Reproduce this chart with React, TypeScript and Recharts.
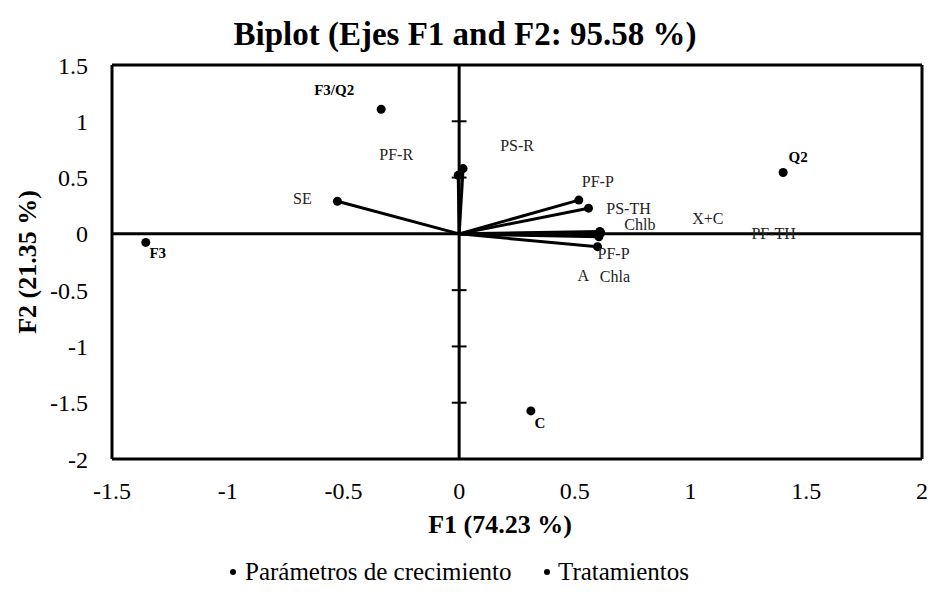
import { ScatterChart, Scatter, XAxis, YAxis, ReferenceLine } from 'recharts'

// growth parameters (vector tips on F1/F2)
const paramNames = ['SE', 'PF-R', 'PS-R', 'PF-P', 'PS-TH', 'Chlb', 'X+C', 'PF-TH', 'PF-P', 'A', 'Chla']
const paramF1 = [-0.526, -0.004, 0.017, 0.517, 0.559, 0.608, 0.612, 0.607, 0.598, 0.601, 0.604]
const paramF2 = [0.29, 0.52, 0.58, 0.3, 0.228, 0.022, 0.01, -0.002, -0.114, -0.014, -0.026]

// treatments (observations)
const treatNames = ['F3/Q2', 'F3', 'Q2', 'C']
const treatF1 = [-0.337, -1.354, 1.4, 0.31]
const treatF2 = [1.107, -0.076, 0.545, -1.573]

const xTicks = [-1.5, -1, -0.5, 0, 0.5, 1, 1.5, 2]
const yTicks = [-2, -1.5, -1, -0.5, 0, 0.5, 1, 1.5]
const centerMarks = [1, 0.5, -0.5, -1, -1.5]

const legendItems = ['Parámetros de crecimiento', 'Tratamientos']

// label nudges in px, the cluster around F1 = 0.6 would be unreadable otherwise
const paramNudge = [
  [-35, -3], [-62, -21], [54, -23], [19, -19], [40, 0], [40, -7],
  [107, -14], [174, -1], [16, 7], [-15, 40], [16, 40],
]
const treatNudge = [[-47, -19], [12, 11], [15, -16], [9, 12]]

const serif = "'Liberation Serif', 'Times New Roman', serif"

const paramData = paramNames.map((name, i) => ({ x: paramF1[i], y: paramF2[i], name, i }))
const treatData = treatNames.map((name, i) => ({ x: treatF1[i], y: treatF2[i], name, i }))

const ParamDot = (props: any) => {
  const { cx, cy, payload } = props
  const [dx, dy] = paramNudge[payload.i]
  return (
    <g>
      <circle cx={cx} cy={cy} r={4.5} fill="#000" />
      <text x={cx + dx} y={cy + dy} textAnchor="middle" dominantBaseline="central"
        fontFamily={serif} fontSize={16} fill="#222">{payload.name}</text>
    </g>
  )
}

const TreatDot = (props: any) => {
  const { cx, cy, payload } = props
  const [dx, dy] = treatNudge[payload.i]
  return (
    <g>
      <circle cx={cx} cy={cy} r={4.5} fill="#000" />
      <text x={cx + dx} y={cy + dy} textAnchor="middle" dominantBaseline="central"
        fontFamily={serif} fontSize={15} fontWeight="bold" fill="#000">{payload.name}</text>
    </g>
  )
}

export default function App() {
  return (
    <div style={{ position: 'absolute', left: 0, top: 0, width: 930, height: 596, background: '#fff', fontFamily: serif }}>
      <div style={{ position: 'absolute', left: 0, width: 930, top: 14, textAlign: 'center', fontSize: 33, fontWeight: 'bold', lineHeight: '40px' }}>
        Biplot (Ejes F1 and F2: 95.58 %)
      </div>
      <ScatterChart width={930} height={596} margin={{ top: 65, right: 8, bottom: 107, left: 52 }}>
        <XAxis type="number" dataKey="x" domain={[-1.5, 2]} ticks={xTicks} height={30}
          axisLine={false} tickLine={false} tickSize={0} tickMargin={23}
          tick={{ fontFamily: serif, fontSize: 24, fill: '#000' }} allowDataOverflow />
        <YAxis type="number" dataKey="y" domain={[-2, 1.5]} ticks={yTicks} width={60}
          axisLine={false} tickLine={false} tickSize={0} tickMargin={24}
          tick={{ fontFamily: serif, fontSize: 24, fill: '#000' }} allowDataOverflow />

        {/* frame */}
        <ReferenceLine x={-1.5} stroke="#000" strokeWidth={3} />
        <ReferenceLine x={2} stroke="#000" strokeWidth={3} />
        <ReferenceLine y={1.5} stroke="#000" strokeWidth={3} />
        <ReferenceLine y={-2} stroke="#000" strokeWidth={3} />

        {/* centre axes with small marks on F2 */}
        <ReferenceLine x={0} stroke="#000" strokeWidth={3} />
        <ReferenceLine y={0} stroke="#000" strokeWidth={3} />
        {centerMarks.map((v) => (
          <ReferenceLine key={v} segment={[{ x: -0.032, y: v }, { x: 0.032, y: v }]} stroke="#000" strokeWidth={2} />
        ))}

        {/* vectors from the origin */}
        {paramData.map((p) => (
          <ReferenceLine key={p.i} segment={[{ x: 0, y: 0 }, { x: p.x, y: p.y }]} stroke="#000" strokeWidth={3} />
        ))}

        <Scatter name={legendItems[0]} data={paramData} shape={ParamDot} isAnimationActive={false} />
        <Scatter name={legendItems[1]} data={treatData} shape={TreatDot} isAnimationActive={false} />
      </ScatterChart>

      <div style={{ position: 'absolute', left: 0, width: 930, top: 510, textAlign: 'center', paddingLeft: 70, boxSizing: 'border-box', fontSize: 26, fontWeight: 'bold' }}>
        F1 (74.23 %)
      </div>
      <div style={{ position: 'absolute', left: 28, top: 262, transform: 'translate(-50%, -50%) rotate(-90deg)', whiteSpace: 'nowrap', fontSize: 26, fontWeight: 'bold' }}>
        F2 (21.35 %)
      </div>

      {/* legend */}
      {legendItems.map((s, i) => (
        <div key={s} style={{ position: 'absolute', top: 558, left: i === 0 ? 230 : 544, display: 'flex', alignItems: 'center', fontSize: 25, whiteSpace: 'nowrap' }}>
          <span style={{ display: 'inline-block', width: 6, height: 6, borderRadius: 3, background: '#000', marginRight: i === 0 ? 9 : 8 }} />
          {s}
        </div>
      ))}
    </div>
  )
}
